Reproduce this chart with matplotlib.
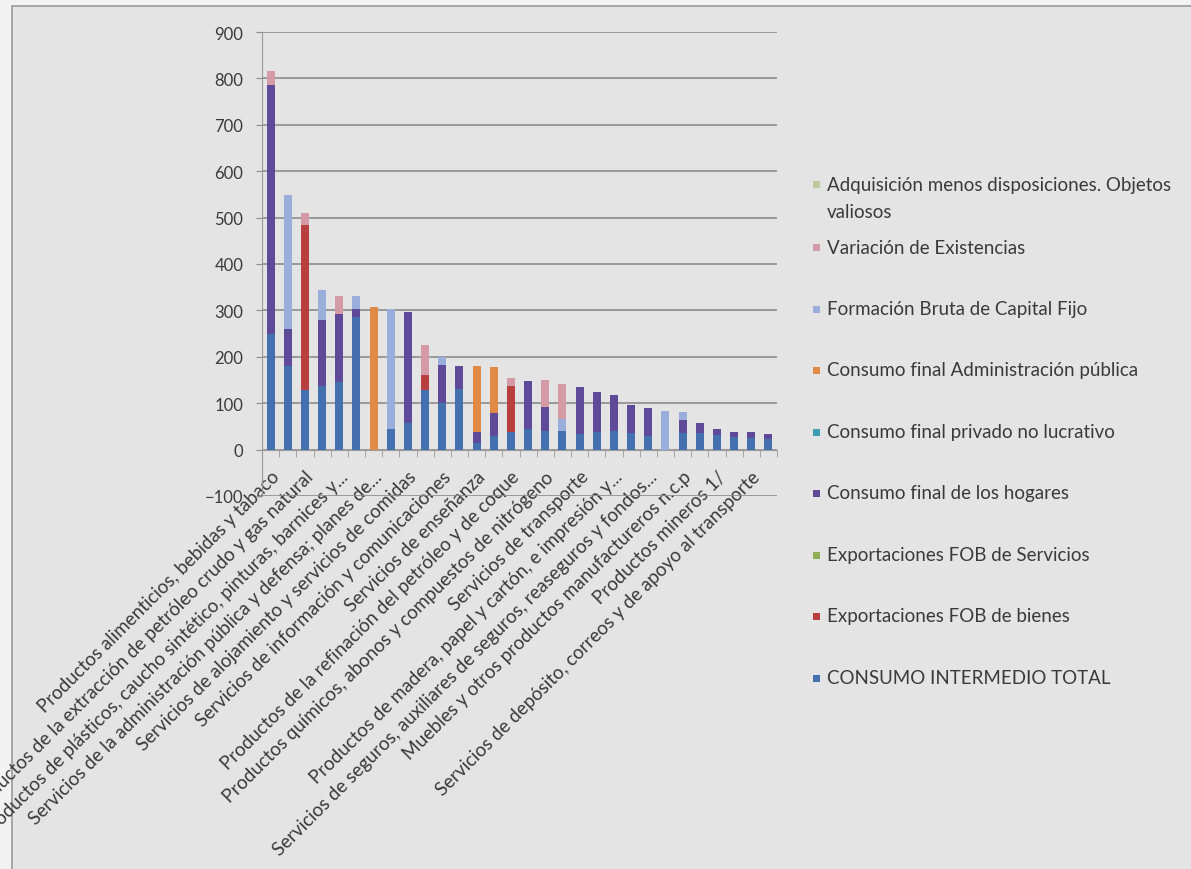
import numpy as np
import matplotlib.pyplot as plt
from matplotlib.patches import Rectangle

plt.rcParams['font.family'] = ['Lato', 'DejaVu Sans']

# categorias: solo las impares llevan rotulo en el eje
categorias = [
    "Productos alimenticios, bebidas y tabaco", "",
    "Productos de la extracción de petróleo crudo y gas natural", "",
    "Productos de plásticos, caucho sintético, pinturas, barnices y...", "",
    "Servicios de la administración pública y defensa; planes de...", "",
    "Servicios de alojamiento y servicios de comidas", "",
    "Servicios de información y comunicaciones", "",
    "Servicios de enseñanza", "",
    "Productos de la refinación del petróleo y de coque", "",
    "Productos químicos, abonos y compuestos de nitrógeno", "",
    "Servicios de transporte", "",
    "Productos de madera, papel y cartón, e impresión y...", "",
    "Servicios de seguros, auxiliares de seguros, reaseguros y fondos...", "",
    "Muebles y otros productos manufactureros n.c.p", "",
    "Productos mineros 1/", "",
    "Servicios de depósito, correos y de apoyo al transporte", "",
]

consumo_intermedio = [250, 180, 128, 138, 145, 285, 0, 45, 58, 128,
                      100, 131, 15, 30, 39, 45, 40, 40, 34, 38,
                      40, 35, 30, 0, 35, 35, 32, 28, 25, 22]
export_bienes = [0, 0, 355, 0, 0, 0, 0, 0, 0, 32,
                 0, 0, 0, 0, 98, 0, 0, 0, 0, 0,
                 0, 0, 0, 0, 0, 0, 0, 0, 0, 0]
export_servicios = [0] * 30
hogares = [535, 80, 0, 141, 147, 18, 0, 0, 238, 0,
           82, 49, 22, 48, 0, 103, 52, 0, 101, 87,
           78, 62, 60, 0, 28, 22, 13, 11, 13, 12]
privado_no_lucrativo = [0] * 30
administracion = [0, 0, 0, 0, 0, 0, 307, 0, 0, 0,
                  0, 0, 143, 99, 0, 0, 0, 0, 0, 0,
                  0, 0, 0, 0, 0, 0, 0, 0, 0, 0]
fbkf = [0, 288, 0, 64, 0, 27, 0, 257, 0, 0,
        18, 0, 0, 0, 0, 0, 0, 27, 0, 0,
        0, 0, 0, 83, 19, 0, 0, 0, 0, 0]
variacion = [32, 0, 26, 0, 40, 0, 0, 0, 0, 65,
             0, 0, 0, 0, 17, 0, 57, 75, 0, 0,
             0, 0, 0, 0, 0, 0, 0, 0, 0, 0]
objetos_valiosos = [0] * 30

series = [
    ("CONSUMO INTERMEDIO TOTAL", consumo_intermedio, "#4470b0"),
    ("Exportaciones FOB de bienes", export_bienes, "#b8403e"),
    ("Exportaciones FOB de Servicios", export_servicios, "#8fae55"),
    ("Consumo final de los hogares", hogares, "#5f4a99"),
    ("Consumo final privado no lucrativo", privado_no_lucrativo, "#3f9cb5"),
    ("Consumo final Administración pública", administracion, "#e08a45"),
    ("Formación Bruta de Capital Fijo", fbkf, "#9aaedb"),
    ("Variación de Existencias", variacion, "#d49aa5"),
    ("Adquisición menos disposiciones. Objetos\nvaliosos", objetos_valiosos, "#bccb9f"),
]

fondo = "#e4e4e4"
texto = "#3a3a3a"

fig = plt.figure(figsize=(11.91, 8.70), dpi=100, facecolor="#f2f2f2")
fig.patches.append(Rectangle((12 / 1191, -0.01), 1, 1 - 7 / 870 + 0.01, transform=fig.transFigure,
                             facecolor=fondo, edgecolor="#9a9a9a", linewidth=1.2, zorder=-10))

ax = fig.add_axes([262 / 1191, 1 - 497 / 870, (777 - 262) / 1191, (497 - 33) / 870])
ax.set_facecolor(fondo)

x = np.arange(len(categorias))
base = np.zeros(len(categorias))
for nombre, valores, color in series:
    valores = np.array(valores, dtype=float)
    ax.bar(x, valores, width=0.46, bottom=base, color=color, zorder=3)
    base += valores

ax.set_xlim(-0.5, len(categorias) - 0.5)
ax.set_ylim(-100, 900)
ax.set_yticks(np.arange(-100, 901, 100))
ax.yaxis.grid(True, color="#8c8c8c", linewidth=1.2, zorder=0)
ax.tick_params(axis="y", length=4, color="#8c8c8c", labelsize=12, labelcolor=texto, pad=9.5)

for lado in ["top", "right"]:
    ax.spines[lado].set_visible(False)
ax.spines["left"].set_color("#9a9a9a")
ax.spines["bottom"].set_position(("data", 0))
ax.spines["bottom"].set_color("#9a9a9a")

# eje de categorias en cero, marcas entre barras
ax.set_xticks(x)
ax.set_xticklabels(categorias, rotation=45, ha="right", rotation_mode="anchor",
                   fontsize=13.5, color=texto)
ax.set_xticks(np.arange(-0.5, len(categorias)), minor=True)
ax.tick_params(axis="x", which="major", length=0, pad=13)
ax.tick_params(axis="x", which="minor", length=5, color="#9a9a9a")

# leyenda a la derecha, de arriba hacia abajo en orden inverso
y0 = 185
paso = 61.5
for i, (nombre, valores, color) in enumerate(reversed(series)):
    yy = y0 + 63 + (i - 1) * paso if i > 0 else y0
    fig.patches.append(Rectangle((813 / 1191, 1 - (yy + 4) / 870), 7 / 1191, 7 / 870,
                                 transform=fig.transFigure, facecolor=color, edgecolor="none"))
    for k, linea in enumerate(nombre.split("\n")):
        fig.text(827 / 1191, 1 - (yy + 27 * k) / 870, linea, fontsize=13.5, color=texto,
                 va="center", ha="left")

fig.savefig("out.png", dpi=100, facecolor=fig.get_facecolor())
